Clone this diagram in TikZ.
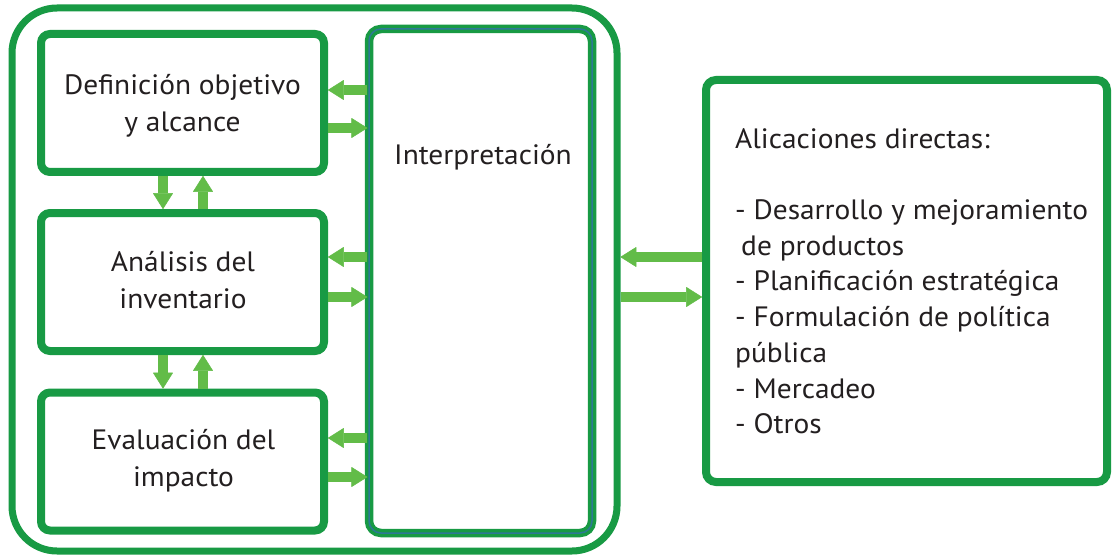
\documentclass[tikz,border=0pt]{standalone}
\usepackage{fontspec}
\setmainfont{PT Sans}[FakeStretch=1.05]
\usetikzlibrary{arrows.meta}
\definecolor{dkgreen}{RGB}{24,154,68}
\definecolor{ltgreen}{RGB}{98,188,72}
\definecolor{blueline}{RGB}{45,120,150}
\definecolor{txt}{RGB}{35,31,32}
\begin{document}
\begin{tikzpicture}[x=1pt,y=-1pt,
  box/.style={draw=dkgreen, line width=8pt, rounded corners=9pt, minimum width=283pt, minimum height=138pt, inner sep=0pt},
  lbl/.style={text=txt, font=\fontsize{28}{37}\selectfont, align=center, inner sep=0pt},
  arr/.style={draw=ltgreen, line width=10pt, -{Triangle[length=16pt,width=20pt,line width=0.5pt,round]}}]
\useasboundingbox (0,0) rectangle (1113,556);
\fill[white] (0,0) rectangle (1113,556);
% containers
\node[draw=dkgreen, line width=7pt, rounded corners=45pt, minimum width=605pt, minimum height=543pt, inner sep=0pt] (outer) at (314.5,279.5) {};
\node[draw=dkgreen, double=blueline, line width=3.5pt, double distance=1.5pt, rounded corners=12pt, minimum width=223pt, minimum height=504pt, inner sep=0pt] (interp) at (480.5,281) {};
\node[draw=dkgreen, line width=8pt, rounded corners=10pt, minimum width=401pt, minimum height=402pt, inner sep=0pt] (apps) at (906.5,281) {};
% stage boxes
\node[box] (b1) at (182.5,103) {};
\node[box] (b2) at (182.5,282) {};
\node[box] (b3) at (182.5,461.5) {};
% texts
\node[lbl] (t1) at (182.5,106) {Definición objetivo\\y alcance};
\node[lbl] (t2) at (183,280.5) {Análisis del\\inventario};
\node[lbl] (t3) at (183.5,461) {Evaluación del\\impacto};
\node[lbl, anchor=base] (t4) at (483,165) {Interpretación};
\node[lbl, align=left, anchor=north west, font=\fontsize{28}{35.7}\selectfont] (t5) at (735,128)
 {Alicaciones directas:\\ \mbox{}\\- Desarrollo y mejoramiento\\\hspace{6pt}de productos\\- Planificación estratégica\\- Formulación de política\\pública\\- Mercadeo\\- Otros};
% arrow levels
\coordinate (h1a) at (0,90);
\coordinate (h1b) at (0,128);
\coordinate (h2a) at (0,257);
\coordinate (h2b) at (0,297);
\coordinate (h3a) at (0,438);
\coordinate (h3b) at (0,477);
\coordinate (v1) at (163,0);
\coordinate (v2) at (203,0);
\coordinate (ra) at (0,257);
\coordinate (rb) at (0,297);
% arrows stage <-> interpretation
\draw[arr] (interp.west |- h1a) -- (b1.east |- h1a);
\draw[arr] (b1.east |- h1b) -- (interp.west |- h1b);
\draw[arr] (interp.west |- h2a) -- (b2.east |- h2a);
\draw[arr] (b2.east |- h2b) -- (interp.west |- h2b);
\draw[arr] (interp.west |- h3a) -- (b3.east |- h3a);
\draw[arr] (b3.east |- h3b) -- (interp.west |- h3b);
% vertical arrows
\draw[arr] (b1.south -| v1) -- (b2.north -| v1);
\draw[arr] (b2.north -| v2) -- (b1.south -| v2);
\draw[arr] (b2.south -| v1) -- (b3.north -| v1);
\draw[arr] (b3.north -| v2) -- (b2.south -| v2);
% arrows to applications
\draw[arr] (apps.west |- ra) -- (outer.east |- ra);
\draw[arr] (outer.east |- rb) -- (apps.west |- rb);
\end{tikzpicture}
\end{document}
